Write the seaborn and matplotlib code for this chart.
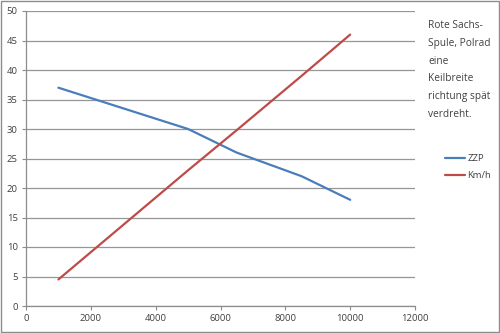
import matplotlib
matplotlib.use("Agg")
import matplotlib.pyplot as plt
import seaborn as sns
import pandas as pd
from matplotlib.patches import Rectangle
from matplotlib.lines import Line2D

rpm = [1000, 5000, 6500, 8500, 10000]
zzp = [37, 30, 26, 22, 18]
kmh = [4.5, 23, 29.8, 39, 46]
x_ticks = [0, 2000, 4000, 6000, 8000, 10000, 12000]
y_ticks = [0, 5, 10, 15, 20, 25, 30, 35, 40, 45, 50]
note = "Rote Sachs-\nSpule, Polrad\neine\nKeilbreite\nrichtung spät\nverdreht."

df = pd.DataFrame({"rpm": rpm + rpm,
                   "val": zzp + kmh,
                   "series": ["ZZP"] * len(rpm) + ["Km/h"] * len(rpm)})

sns.set_theme(style="white")
plt.rcParams['font.family'] = ['Open Sans', 'DejaVu Sans']

fig = plt.figure(figsize=(5, 3.33), dpi=100)
ax = fig.add_axes([26/500, 1 - 306/333, (415-26)/500, (306-11)/333])

sns.lineplot(data=df, x="rpm", y="val", hue="series",
             palette={"ZZP": "#4A7EBB", "Km/h": "#BE4B48"},
             linewidth=1.6, ax=ax, legend=False, sort=False)

ax.set_xlim(0, 12000)
ax.set_ylim(0, 50)
ax.set_xticks(x_ticks)
ax.set_yticks(y_ticks)
ax.set_xlabel("")
ax.set_ylabel("")
ax.yaxis.grid(True, color="#969696", linewidth=0.9)
ax.xaxis.grid(False)
ax.set_axisbelow(True)
for s in ["top", "right"]:
    ax.spines[s].set_visible(False)
for s in ["left", "bottom"]:
    ax.spines[s].set_color("#8c8c8c")
    ax.spines[s].set_linewidth(0.9)
ax.tick_params(axis="both", which="both", direction="out", length=3,
               width=0.8, color="#8c8c8c", labelsize=6.8, labelcolor="#404040",
               left=True, bottom=True, pad=3)

handles = [Line2D([], [], color="#4A7EBB", linewidth=1.6),
           Line2D([], [], color="#BE4B48", linewidth=1.6)]
fig.legend(handles, ["ZZP", "Km/h"], loc="center left",
           bbox_to_anchor=(436/500, 1 - 167/333), frameon=False,
           fontsize=6.8, handlelength=2.2, handletextpad=0.2,
           labelspacing=0.85, labelcolor="#404040")

fig.text(428/500, 1 - 20/333, note, fontsize=7.3, color="#404040",
         va="top", ha="left", linespacing=1.85)

fig.patches.append(Rectangle((0.002, 0.003), 0.996, 0.994, transform=fig.transFigure,
                             fill=False, edgecolor="#8c8c8c", linewidth=1.0))

fig.savefig("out.png", dpi=100)
